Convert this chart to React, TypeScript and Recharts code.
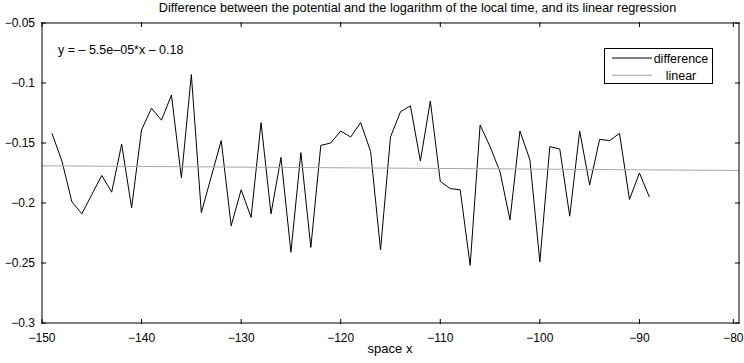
import { LineChart, Line, XAxis, YAxis, Legend } from "recharts";

// values
const diffX = [
  -149, -148, -147, -146, -145, -144, -143, -142, -141, -140,
  -139, -138, -137, -136, -135, -134, -133, -132, -131, -130,
  -129, -128, -127, -126, -125, -124, -123, -122, -121, -120,
  -119, -118, -117, -116, -115, -114, -113, -112, -111, -110,
  -109, -108, -107, -106, -105, -104, -103, -102, -101, -100,
  -99, -98, -97, -96, -95, -94, -93, -92, -91, -90, -89,
];
const diffY = [
  -0.142, -0.165, -0.199, -0.209, -0.193, -0.177, -0.191, -0.151, -0.204, -0.139,
  -0.121, -0.131, -0.11, -0.179, -0.093, -0.208, -0.178, -0.148, -0.219, -0.189,
  -0.212, -0.133, -0.209, -0.162, -0.241, -0.158, -0.237, -0.152, -0.15, -0.14,
  -0.145, -0.133, -0.157, -0.239, -0.145, -0.124, -0.119, -0.165, -0.115, -0.182,
  -0.188, -0.189, -0.252, -0.135, -0.153, -0.174, -0.214, -0.14, -0.164, -0.249,
  -0.153, -0.155, -0.211, -0.14, -0.185, -0.147, -0.148, -0.142, -0.197, -0.175, -0.195,
];
const linearX = [-150, -80];
const linearY = [-0.169, -0.1729];

const xTicks = [-150, -140, -130, -120, -110, -100, -90, -80];
const yTicks = [-0.3, -0.25, -0.2, -0.15, -0.1, -0.05];

const diffData = diffX.map((x, i) => ({ x, y: diffY[i] }));
const linearData = linearX.map((x, i) => ({ x, y: linearY[i] }));

const fmt = (v: number) => String(v).replace("-", "\u2212");

// recharts puts the label at axis + tickSize(5) + tickMargin; ticks are drawn inward by hand
const M = 10;
const T = 5;

function BottomTick({ x, y, payload }: any) {
  const ay = y - M - 5;
  return (
    <g>
      <line x1={x} x2={x} y1={ay} y2={ay - T} stroke="#000" />
      <text x={x} y={ay + 18} textAnchor="middle" fontSize={12} fill="#000">
        {fmt(payload.value)}
      </text>
    </g>
  );
}

// top axis is 1px tall, its line sits at y + height
function TopTick({ x, y }: any) {
  const ay = y + M + 5;
  return <line x1={x} x2={x} y1={ay} y2={ay + T} stroke="#000" />;
}

function LeftTick({ x, y, payload }: any) {
  const ax = x + M + 5;
  return (
    <g>
      <line x1={ax} x2={ax + T} y1={y} y2={y} stroke="#000" />
      <text x={ax - 6} y={y + 4.3} textAnchor="end" fontSize={12} fill="#000">
        {fmt(payload.value)}
      </text>
    </g>
  );
}

function RightTick({ x, y }: any) {
  const ax = x - M - 5;
  return <line x1={ax} x2={ax - T} y1={y} y2={y} stroke="#000" />;
}

function LegendBox({ payload }: any) {
  return (
    <svg width={110} height={37}>
      <rect x={0.5} y={0.5} width={108} height={35} fill="#fff" stroke="#000" />
      {(payload || []).map((p: any, i: number) => (
        <g key={p.value}>
          <line x1={8} x2={48} y1={10 + i * 17.3} y2={10 + i * 17.3} stroke={p.color} />
          <text x={77} y={14.7 + i * 17} fontSize={12.5} textAnchor="middle" fill="#000">
            {p.value}
          </text>
        </g>
      ))}
    </svg>
  );
}

export default function App() {
  return (
    <div
      style={{
        position: "absolute",
        left: 0,
        top: 0,
        width: 744,
        height: 363,
        background: "#fff",
        fontFamily: "'Liberation Sans', Arial, sans-serif",
      }}
    >
      <div
        style={{
          position: "absolute",
          left: 0,
          width: 835,
          top: 1,
          textAlign: "center",
          fontSize: 12.7,
          fontFamily: "'Liberation Sans Narrow', 'Liberation Sans', Arial, sans-serif",
          whiteSpace: "nowrap",
        }}
      >
        Difference between the potential and the logarithm of the local time, and its linear regression
      </div>
      <LineChart width={744} height={363} margin={{ top: 22, right: 4, bottom: 0, left: 0 }}>
        <XAxis
          type="number"
          dataKey="x"
          domain={[-150, -80]}
          ticks={xTicks}
          height={40}
          stroke="#000"
          tickLine={false}
          tickMargin={M}
          tick={<BottomTick />}
        />
        <XAxis
          xAxisId="top"
          orientation="top"
          type="number"
          dataKey="x"
          domain={[-150, -80]}
          ticks={xTicks}
          height={1}
          stroke="#000"
          tickLine={false}
          tickMargin={M}
          tick={<TopTick />}
        />
        <YAxis
          type="number"
          domain={[-0.3, -0.05]}
          ticks={yTicks}
          width={42}
          stroke="#000"
          tickLine={false}
          tickMargin={M}
          tick={<LeftTick />}
        />
        <YAxis
          yAxisId="right"
          orientation="right"
          type="number"
          domain={[-0.3, -0.05]}
          ticks={yTicks}
          width={1}
          stroke="#000"
          tickLine={false}
          tickMargin={M}
          tick={<RightTick />}
        />
        <Legend
          layout="horizontal"
          align="center"
          verticalAlign="middle"
          content={<LegendBox />}
          wrapperStyle={{ position: "absolute", left: 604, top: 48, width: 110, height: 37 }}
        />
        <Line
          name="difference"
          data={diffData}
          dataKey="y"
          stroke="#000"
          strokeWidth={1}
          dot={false}
          isAnimationActive={false}
        />
        <Line
          name="linear"
          data={linearData}
          dataKey="y"
          xAxisId="top"
          yAxisId="right"
          stroke="#a8a8a8"
          strokeWidth={1}
          dot={false}
          isAnimationActive={false}
        />
      </LineChart>
      <div
        style={{
          position: "absolute",
          left: 58,
          top: 43,
          fontSize: 12.5,
          whiteSpace: "nowrap",
        }}
      >
        y = – 5.5e–05*x – 0.18
      </div>
      <div
        style={{
          position: "absolute",
          left: 340,
          width: 100,
          top: 341,
          textAlign: "center",
          fontSize: 13,
        }}
      >
        space x
      </div>
    </div>
  );
}
